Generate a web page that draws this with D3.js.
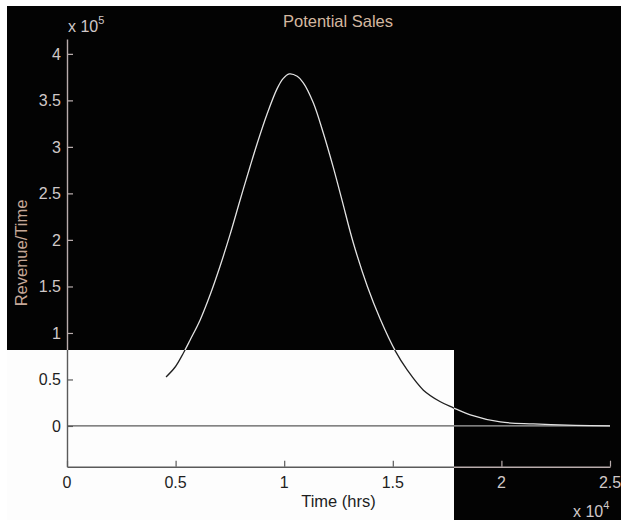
<!DOCTYPE html>
<html>
<head>
<meta charset="utf-8">
<script src="https://cdn.jsdelivr.net/npm/d3@7"></script>
<style>
  html, body { margin: 0; padding: 0; background: #ffffff; }
  svg { display: block; font-family: "Liberation Sans", Arial, sans-serif; }
</style>
</head>
<body>
<div id="chart"></div>
<script>
// ---- data ----
const title = "Potential Sales";
const xLabel = "Time (hrs)";
const yLabel = "Revenue/Time";
const timeHrs = [4560, 4980, 5360, 5670, 6130, 6590, 7050, 7510, 7970, 8430, 8760, 9220, 9680, 9950,
                 10230, 10600, 10880, 11340, 11800, 12260, 12670, 13180, 13830, 14420, 15120, 15670,
                 16410, 17190, 17790, 18570, 19950, 21480, 23040, 25000];
const revenuePerTime = [52700, 63400, 78500, 92500, 114000, 141000, 172000, 206000, 243000, 279000,
                        304000, 336000, 363000, 373500, 378500, 376000, 369000, 347500, 315000, 278000,
                        242000, 197000, 150000, 115000, 80500, 60000, 38500, 26000, 19500, 12000,
                        4300, 2200, 800, 100];
const xTicks = [0, 5000, 10000, 15000, 20000, 25000];
const xTickLabels = ["0", "0.5", "1", "1.5", "2", "2.5"];
const yTicks = [0, 50000, 100000, 150000, 200000, 250000, 300000, 350000, 400000];
const yTickLabels = ["0", "0.5", "1", "1.5", "2", "2.5", "3", "3.5", "4"];
const xDomain = [0, 25000];
const yDomain = [-43800, 416100];

// ---- layout ----
const W = 621, H = 520;
const darkBox = {x: 7, y: 6, w: 614, h: 514};
const lightBox = {x: 7, y: 350, w: 447, h: 170};
const plot = {left: 67, right: 610, top: 39, bottom: 466.7};

const lightText = "#d0c8c8", darkText = "#1e1e1e";
const inLight = (x, y) => x >= lightBox.x && x <= lightBox.x + lightBox.w && y >= lightBox.y && y <= lightBox.y + lightBox.h;

const svg = d3.select("#chart").append("svg").attr("width", W).attr("height", H);
const defs = svg.append("defs");
defs.append("clipPath").attr("id", "clipLight")
  .append("rect").attr("x", lightBox.x).attr("y", lightBox.y).attr("width", lightBox.w).attr("height", lightBox.h);
defs.append("clipPath").attr("id", "clipDark")
  .append("path").attr("clip-rule", "evenodd")
  .attr("d", `M${darkBox.x},${darkBox.y}H${darkBox.x + darkBox.w}V${darkBox.y + darkBox.h}H${darkBox.x}Z` +
             `M${lightBox.x},${lightBox.y}H${lightBox.x + lightBox.w}V${lightBox.y + lightBox.h}H${lightBox.x}Z`);

svg.append("rect").attr("width", W).attr("height", H).attr("fill", "#ffffff");
svg.append("rect").attr("x", darkBox.x).attr("y", darkBox.y).attr("width", darkBox.w).attr("height", darkBox.h).attr("fill", "#030303");
svg.append("rect").attr("x", lightBox.x).attr("y", lightBox.y).attr("width", lightBox.w).attr("height", lightBox.h).attr("fill", "#fdfdfd");

const x = d3.scaleLinear().domain(xDomain).range([plot.left, plot.right]);
const y = d3.scaleLinear().domain(yDomain).range([plot.bottom, plot.top]);

const line = d3.line().x(d => x(d[0])).y(d => y(d[1])).curve(d3.curveCatmullRom.alpha(0.5));
const pts = timeHrs.map((t, i) => [t, revenuePerTime[i]]);

// draw graphics twice: once for dark region, once for light region
function drawLines(g, onDark) {
  const axisCol = onDark ? "#b8acac" : "#5a5a5a";
  const zeroCol = onDark ? "#a8a8a8" : "#5a5a5a";
  const curveCol = onDark ? "#e2e2e2" : "#202020";
  g.append("line").attr("x1", x(xDomain[0])).attr("x2", x(xDomain[1]))
    .attr("y1", y(0)).attr("y2", y(0)).attr("stroke", zeroCol).attr("stroke-width", 1.3);
  const xAxis = d3.axisBottom(x).tickValues(xTicks).tickFormat("").tickSizeInner(-6).tickSizeOuter(0);
  const yAxis = d3.axisLeft(y).tickValues(yTicks).tickFormat("").tickSizeInner(-6).tickSizeOuter(0);
  const gx = g.append("g").attr("transform", `translate(0,${plot.bottom})`).call(xAxis);
  const gy = g.append("g").attr("transform", `translate(${plot.left},0)`).call(yAxis);
  [gx, gy].forEach(a => {
    a.select(".domain").attr("stroke", axisCol).attr("stroke-width", 1.4);
    a.selectAll(".tick line").attr("stroke", axisCol).attr("stroke-width", 1.2);
  });
  g.append("path").datum(pts).attr("d", line).attr("fill", "none")
    .attr("stroke", curveCol).attr("stroke-width", 1.3);
}
drawLines(svg.append("g").attr("clip-path", "url(#clipDark)"), true);
drawLines(svg.append("g").attr("clip-path", "url(#clipLight)"), false);

// tick labels
const fs = 16;
svg.append("g").selectAll("text").data(xTicks).join("text")
  .attr("x", d => x(d)).attr("y", 488).attr("text-anchor", "middle")
  .attr("font-size", fs)
  .attr("fill", d => inLight(x(d), 480) ? darkText : lightText)
  .text((d, i) => xTickLabels[i]);
svg.append("g").selectAll("text").data(yTicks).join("text")
  .attr("x", 61).attr("y", d => y(d)).attr("dy", "0.36em").attr("text-anchor", "end")
  .attr("font-size", fs)
  .attr("fill", d => inLight(50, y(d)) ? darkText : lightText)
  .text((d, i) => yTickLabels[i]);

// exponent labels
const ex5 = svg.append("text").attr("x", 68).attr("y", 32).attr("font-size", fs).attr("fill", lightText);
ex5.append("tspan").text("x 10");
ex5.append("tspan").attr("dy", -8).attr("font-size", 11).text("5");
const ex4 = svg.append("text").attr("x", 573).attr("y", 517).attr("font-size", fs).attr("fill", lightText);
ex4.append("tspan").text("x 10");
ex4.append("tspan").attr("dy", -8).attr("font-size", 11).text("4");

// title & axis labels
svg.append("text").attr("x", 338).attr("y", 27).attr("text-anchor", "middle")
  .attr("font-size", 16.5).attr("fill", "#d4b8a0").text(title);
svg.append("text").attr("x", 338.5).attr("y", 507).attr("text-anchor", "middle")
  .attr("font-size", 16.5).attr("fill", darkText).text(xLabel);
svg.append("text").attr("transform", `translate(27,253) rotate(-90)`).attr("text-anchor", "middle")
  .attr("font-size", 16.5).attr("fill", "#c6a898").text(yLabel);
</script>
</body>
</html>
